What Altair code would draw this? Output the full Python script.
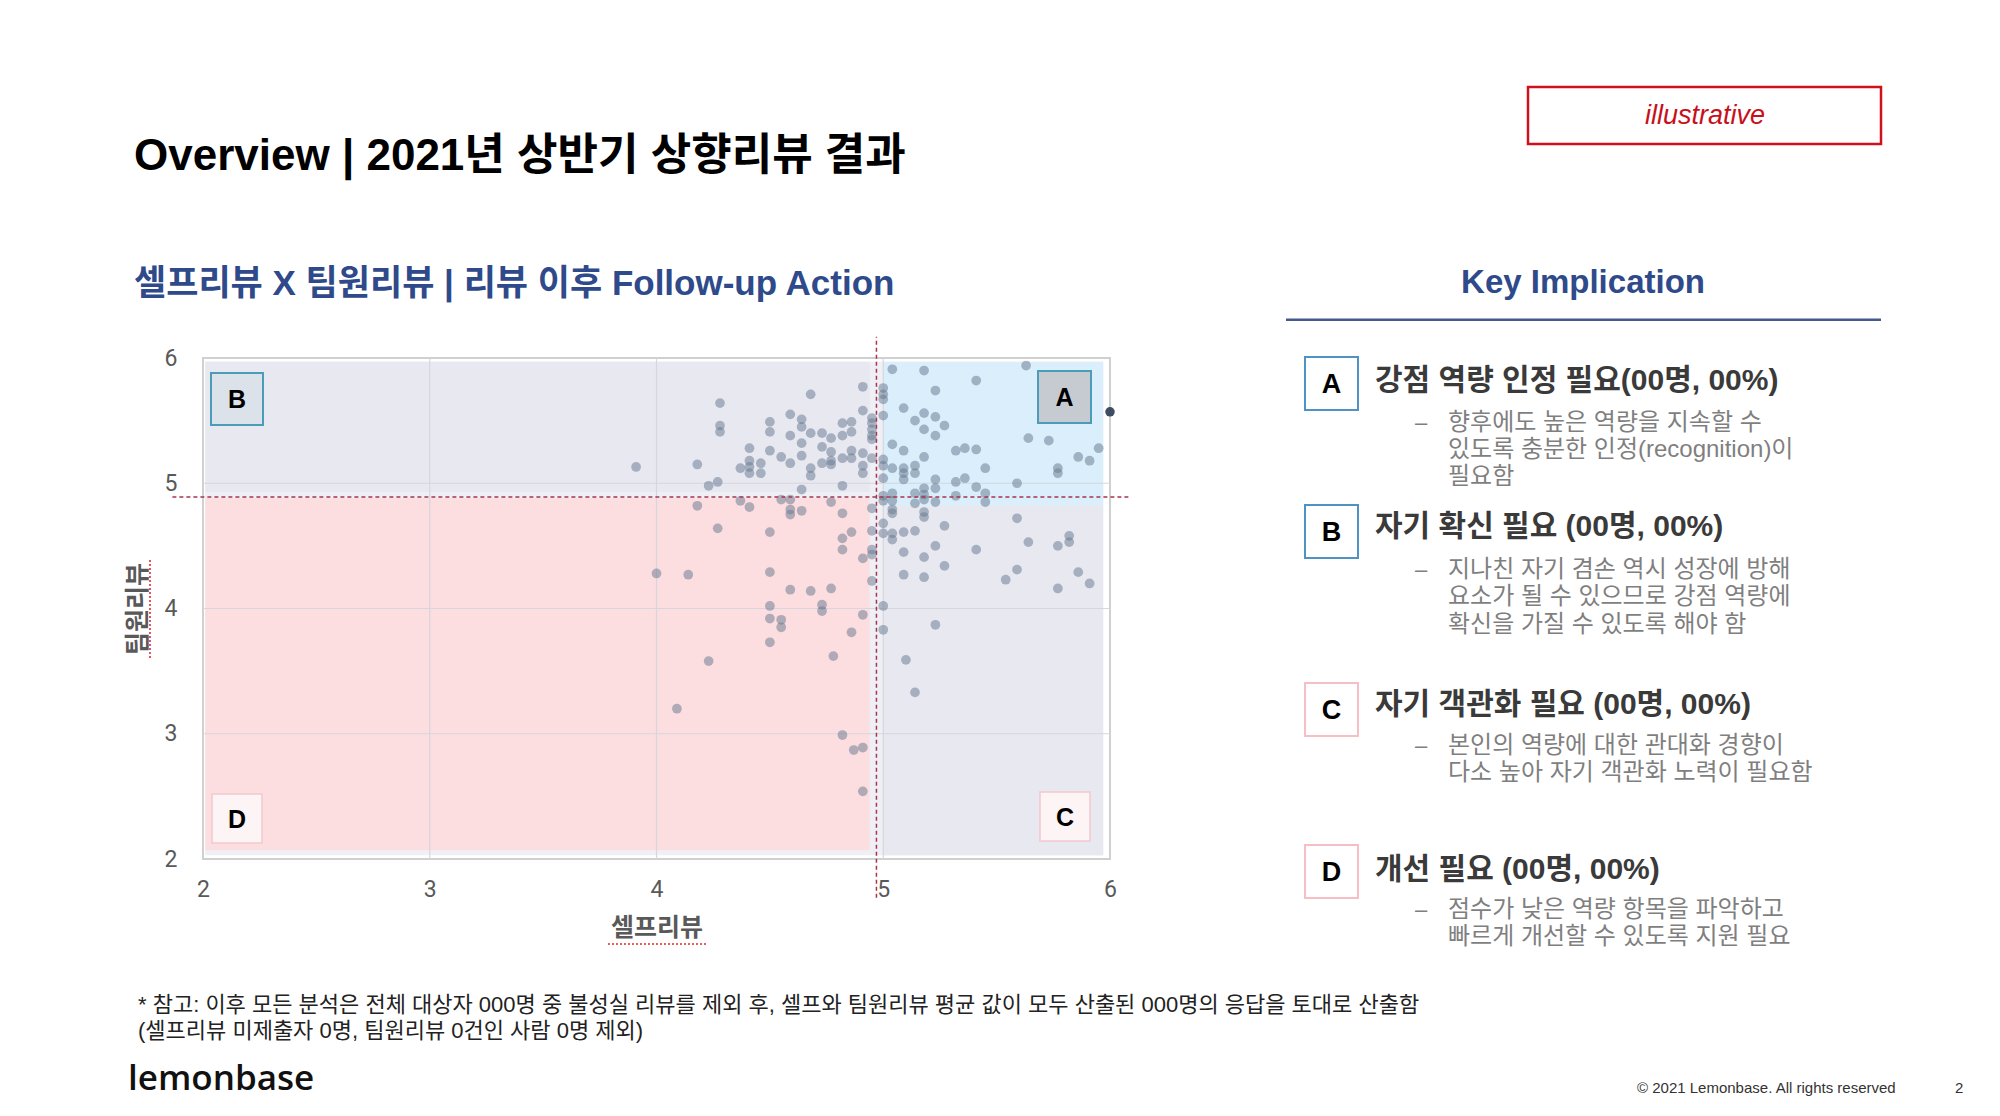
import altair as alt
import pandas as pd

# ---------------- data ----------------
self_review = [
    3.91, 4.18, 4.23, 4.27, 4.28, 4.28, 4.28, 4.18, 4.27, 4.37, 4.37, 4.41, 4.41, 4.41, 4.41, 4.41, 4.46, 4.46,
    4.50, 4.50, 4.50, 4.50, 4.50, 4.50, 4.50, 4.50, 4.55, 4.55, 4.55, 4.55,
    4.59, 4.59, 4.59, 4.59, 4.59, 4.59, 4.59, 4.64, 4.64, 4.64, 4.64, 4.64, 4.64,
    4.68, 4.68, 4.68, 4.68, 4.68, 4.73, 4.73, 4.73, 4.73, 4.73,
    4.77, 4.77, 4.77, 4.77, 4.77, 4.77, 4.82, 4.82, 4.82, 4.82, 4.82, 4.82, 4.82,
    4.86, 4.86, 4.86, 4.86, 4.86, 4.86, 4.91, 4.91, 4.91, 4.91, 4.91, 4.91, 4.91,
    4.95, 4.95, 4.95, 4.95, 4.95, 4.95, 4.95, 4.95, 4.95, 4.95, 4.95,
    5.00, 5.00, 5.00, 5.00, 5.00, 5.00, 5.00, 5.00, 5.00, 5.00, 5.00, 5.00, 5.00,
    5.04, 5.04, 5.04, 5.04, 5.04, 5.04, 5.04, 5.04, 5.04,
    4.00, 4.14, 4.23, 4.78, 5.10, 5.14, 4.09, 4.82, 4.87, 4.91, 4.91,
    5.09, 5.09, 5.09, 5.09, 5.09, 5.09, 5.09, 5.09,
    5.14, 5.14, 5.14, 5.14, 5.14, 5.14,
    5.18, 5.18, 5.18, 5.18, 5.18, 5.18, 5.18, 5.18, 5.18, 5.18, 5.18,
    5.23, 5.23, 5.23, 5.23, 5.23, 5.23, 5.23, 5.23,
    5.27, 5.27, 5.27, 5.32, 5.32, 5.32, 5.36, 5.36, 5.41, 5.41, 5.41, 5.41,
    5.45, 5.45, 5.45, 5.59, 5.59, 5.59, 5.54, 5.63, 5.64, 5.64, 5.73, 5.77, 5.77,
    5.77, 5.77, 5.82, 5.82, 5.86, 5.86, 5.91, 5.91, 5.95,
]
team_review = [
    5.13, 5.15, 4.98, 5.01, 5.64, 5.46, 5.41, 4.82, 4.64, 5.12, 4.86, 5.28, 5.18, 5.13, 5.08, 4.81, 5.16, 5.08,
    5.49, 5.41, 5.26, 4.61, 4.29, 4.02, 3.92, 3.73, 5.21, 4.87, 3.91, 3.85,
    5.55, 5.38, 5.16, 4.87, 4.79, 4.75, 4.15, 5.51, 5.45, 5.32, 5.22, 4.95, 4.78,
    5.71, 5.40, 5.12, 5.06, 4.14, 5.40, 5.29, 5.16, 4.03, 3.98,
    5.36, 5.25, 5.18, 5.15, 4.85, 4.16, 5.48, 5.38, 5.20, 4.98, 4.76, 4.56, 4.47,
    5.49, 5.41, 5.26, 5.20, 4.61, 3.81, 5.77, 5.58, 5.24, 5.14, 5.08, 4.40, 3.95,
    5.52, 5.48, 5.43, 5.38, 5.35, 5.20, 4.80, 4.62, 4.47, 4.43, 4.22,
    5.76, 5.71, 5.67, 5.54, 5.19, 5.14, 5.04, 4.90, 4.86, 4.68, 4.60, 4.02, 3.83,
    5.91, 5.31, 5.12, 4.92, 4.86, 4.79, 4.76, 4.60, 4.55,
    4.28, 4.27, 3.58, 3.62, 3.59, 3.33, 3.20, 2.99, 2.87, 2.89, 2.54,
    5.60, 5.26, 5.12, 5.08, 5.03, 4.61, 4.45, 4.27,
    5.50, 5.14, 5.08, 4.92, 4.84, 4.62,
    5.90, 5.56, 5.43, 5.21, 4.96, 4.91, 4.87, 4.77, 4.73, 4.41, 4.25,
    5.74, 5.53, 5.38, 5.03, 4.96, 4.85, 4.50, 3.87,
    5.46, 4.66, 4.34, 5.26, 5.01, 4.90, 5.28, 5.04, 5.82, 5.27, 4.97, 4.47,
    5.12, 4.92, 4.85, 5.00, 4.72, 4.31, 4.23, 5.94, 5.36, 4.53, 5.34, 5.12, 5.08,
    4.50, 4.16, 4.58, 4.53, 5.21, 4.29, 5.18, 4.20, 5.28,
]
assert len(self_review) == len(team_review)

highlight_self = [6.00]
highlight_team = [5.57]

axis_ticks = [2, 3, 4, 5, 6]
grid_vals = [3, 4, 5]

self_cut = 4.97
team_cut = 4.89

quad_x1 = [2.01, 2.01, 2.01, 5.00, 5.00]
quad_x2 = [5.97, 4.94, 4.94, 5.97, 5.97]
quad_y1 = [2.03, 4.93, 2.07, 4.82, 2.03]
quad_y2 = [5.97, 5.97, 4.88, 5.97, 4.82]
quad_colors = ["#EFF0F6", "#E8E8F0", "#FCDDE0", "#DAEEFB", "#E8E8F0"]

title_text = "Overview | 2021년 상반기 상향리뷰 결과"
subtitle_text = "셀프리뷰 X 팀원리뷰 | 리뷰 이후 Follow-up Action"
panel_title = "Key Implication"
tag_text = "illustrative"
x_title = "셀프리뷰"
y_title = "팀원리뷰"

impl_letters = ["A", "B", "C", "D"]
impl_heads = [
    "강점 역량 인정 필요(00명, 00%)",
    "자기 확신 필요 (00명, 00%)",
    "자기 객관화 필요 (00명, 00%)",
    "개선 필요 (00명, 00%)",
]
impl_bodies = [
    ["향후에도 높은 역량을 지속할 수", "있도록 충분한 인정(recognition)이", "필요함"],
    ["지나친 자기 겸손 역시 성장에 방해", "요소가 될 수 있으므로 강점 역량에", "확신을 가질 수 있도록 해야 함"],
    ["본인의 역량에 대한 관대화 경향이", "다소 높아 자기 객관화 노력이 필요함"],
    ["점수가 낮은 역량 항목을 파악하고", "빠르게 개선할 수 있도록 지원 필요"],
]
note_lines = [
    "* 참고: 이후 모든 분석은 전체 대상자 000명 중 불성실 리뷰를 제외 후, 셀프와 팀원리뷰 평균 값이 모두 산출된 000명의 응답을 토대로 산출함",
    "(셀프리뷰 미제출자 0명, 팀원리뷰 0건인 사람  0명 제외)",
]
logo_text = "lemonbase"
copyright_text = "© 2021 Lemonbase. All rights reserved"
page_no = "2"

# ---------------- style ----------------
KFONT = "Noto Sans CJK KR"
MIX = "Liberation Sans, Noto Sans CJK KR"
NAVY = "#2F4A8A"
W, H = 907, 501

xs = alt.Scale(domain=[2, 6], nice=False, zero=False)
ys = alt.Scale(domain=[2, 6], nice=False, zero=False)

x_axis = alt.Axis(values=axis_ticks, grid=False, ticks=False, domain=False, format="d",
                  labelFont="Roboto", labelFontSize=23, labelColor="#595959", labelPadding=19,
                  labelFlush=False, titleFont=KFONT, titleFontSize=25,
                  titleFontWeight="bold", titleColor="#595959", titlePadding=14)
y_axis = alt.Axis(values=axis_ticks, grid=False, ticks=False, domain=False, format="d",
                  labelFont="Roboto", labelFontSize=23, labelColor="#595959", labelPadding=26,
                  labelFlush=False, titleFont=KFONT, titleFontSize=25,
                  titleFontWeight="bold", titleColor="#595959", titlePadding=14)


def X(field):
    return alt.X(field, scale=xs, axis=x_axis, title=x_title)


def Y(field):
    return alt.Y(field, scale=ys, axis=y_axis, title=y_title)


layers = []

quad_df = pd.DataFrame({"x1": quad_x1, "x2": quad_x2, "y1": quad_y1, "y2": quad_y2, "c": quad_colors})
layers.append(
    alt.Chart(quad_df).mark_rect().encode(
        x=X("x1:Q"), x2="x2:Q", y=Y("y1:Q"), y2="y2:Q",
        color=alt.Color("c:N", scale=None),
    )
)

grid_df = pd.DataFrame({"g": grid_vals})
layers.append(alt.Chart(grid_df).mark_rule(color="#D6D6DC", strokeWidth=1.2).encode(x=X("g:Q")))
layers.append(alt.Chart(grid_df).mark_rule(color="#D6D6DC", strokeWidth=1.2).encode(y=Y("g:Q")))

pts = pd.DataFrame({"self": self_review, "team": team_review})
layers.append(alt.Chart(pts).mark_circle(size=95, color="#6A7B92", opacity=0.52).encode(
    x=X("self:Q"), y=Y("team:Q")))

hl = pd.DataFrame({"self": highlight_self, "team": highlight_team})
layers.append(alt.Chart(hl).mark_circle(size=90, color="#34435A", opacity=0.95).encode(
    x=X("self:Q"), y=Y("team:Q")))

vline = pd.DataFrame({"x": [self_cut], "y1": [1.69], "y2": [6.17]})
hline = pd.DataFrame({"y": [team_cut], "x1": [1.865], "x2": [6.09]})
layers.append(alt.Chart(vline).mark_rule(color="#A8344E", strokeDash=[4, 3], strokeWidth=1.5).encode(
    x=X("x:Q"), y=Y("y1:Q"), y2="y2:Q"))
layers.append(alt.Chart(hline).mark_rule(color="#A8344E", strokeDash=[4, 3], strokeWidth=1.5).encode(
    y=Y("y:Q"), x=X("x1:Q"), x2="x2:Q"))


def box(x1, y1, x2, y2, fill, stroke, sw):
    return alt.Chart(pd.DataFrame({"k": [0]})).mark_rect(fill=fill, stroke=stroke, strokeWidth=sw).encode(
        x=alt.value(x1), x2=alt.value(x2), y=alt.value(y1), y2=alt.value(y2))


def seg(x1, y1, x2, y2, color, sw, dash):
    return alt.Chart(pd.DataFrame({"k": [0]})).mark_rule(color=color, strokeWidth=sw, strokeDash=dash).encode(
        x=alt.value(x1), x2=alt.value(x2), y=alt.value(y1), y2=alt.value(y2))


def txt(s, x, y, size, color="#000000", weight="normal", font=MIX, align="left", style="normal"):
    return alt.Chart(pd.DataFrame({"t": [s]})).mark_text(
        align=align, baseline="middle", fontSize=size, font=font, fontWeight=weight,
        fontStyle=style, color=color).encode(text="t:N", x=alt.value(x), y=alt.value(y))


# spell-check underline marks below the axis titles
layers.append(seg(405, 586, 503, 586, "#E02C2C", 1.6, [2, 2]))
layers.append(seg(-53, 202, -53, 300, "#E02C2C", 1.6, [2, 2]))

# quadrant label boxes inside the plot
in_boxes = [
    ("B", 8, 15, 60, 67, "#DCE2E9", "#4B9CB8", 2),
    ("A", 835, 13, 888, 65, "#C6CBD2", "#4B9CB8", 2),
    ("D", 9, 436, 59, 485, "#FCF4F5", "#F3C7CC", 1.5),
    ("C", 837, 434, 887, 483, "#FCF4F5", "#F3C7CC", 1.5),
]
for letter, x1, y1, x2, y2, f, s, sw in in_boxes:
    layers.append(box(x1, y1, x2, y2, f, s, sw))
    layers.append(txt(letter, (x1 + x2) / 2, (y1 + y2) / 2 + 1, 25, weight="bold",
                      font="Liberation Sans", align="center"))

# titles
layers.append(txt(title_text, -69, -201, 44, weight="bold", color="#000000"))
layers.append(txt(subtitle_text, -69, -74, 35, weight="bold", color=NAVY))
layers.append(txt(panel_title, 1380, -75, 33, weight="bold", color=NAVY, font="Liberation Sans", align="center"))
layers.append(box(1083, -39.5, 1678, -37, "#45598F", "#45598F", 0))

# illustrative tag
layers.append(box(1325, -271, 1678, -214, "#FFFFFF", "#D0101B", 2.5))
layers.append(txt(tag_text, 1502, -242, 27, color="#C8101B", font="Liberation Sans", align="center", style="italic"))

# key implication panel
panel_box_y = [-1, 147, 325, 487]
panel_box_style = [("#4E93C4", 2), ("#4E93C4", 2), ("#F5BFC5", 2), ("#F5BFC5", 2)]
head_y = [23, 169, 347, 512]
body_y = [[65, 92, 119], [212, 239, 267], [388, 415], [552, 579]]
for i, letter in enumerate(impl_letters):
    by = panel_box_y[i]
    sc, sw = panel_box_style[i]
    layers.append(box(1102, by, 1155, by + 53, "#FFFFFF", sc, sw))
    layers.append(txt(letter, 1128.5, by + 27.5, 27, weight="bold", font="Liberation Sans", align="center"))
    layers.append(txt(impl_heads[i], 1172, head_y[i], 30, weight="bold", color="#3A3A3A"))
    layers.append(txt("–", 1212, body_y[i][0], 22, color="#7F7F7F"))
    for j, line in enumerate(impl_bodies[i]):
        layers.append(txt(line, 1245, body_y[i][j], 24, color="#7F7F7F"))

# footer
layers.append(txt(note_lines[0], -65, 647, 22, color="#222222"))
layers.append(txt(note_lines[1], -65, 673, 22, color="#222222"))
layers.append(txt(logo_text, -75, 721, 35, color="#111111", font="Open Sans", weight=600))
layers.append(txt(copyright_text, 1434, 730, 15, color="#333333", font="Liberation Sans"))
layers.append(txt(page_no, 1752, 730, 15, color="#333333", font="Liberation Sans"))

chart = alt.layer(*layers).properties(
    width=W, height=H,
    padding={"left": 195, "top": 350, "right": 882, "bottom": 245},
    autosize=alt.AutoSizeParams(type="none"),
    background="#FFFFFF",
).configure_view(stroke="#D0D0D0", strokeWidth=2)

chart.save("out.html", embed_options={"renderer": "svg", "actions": False})
